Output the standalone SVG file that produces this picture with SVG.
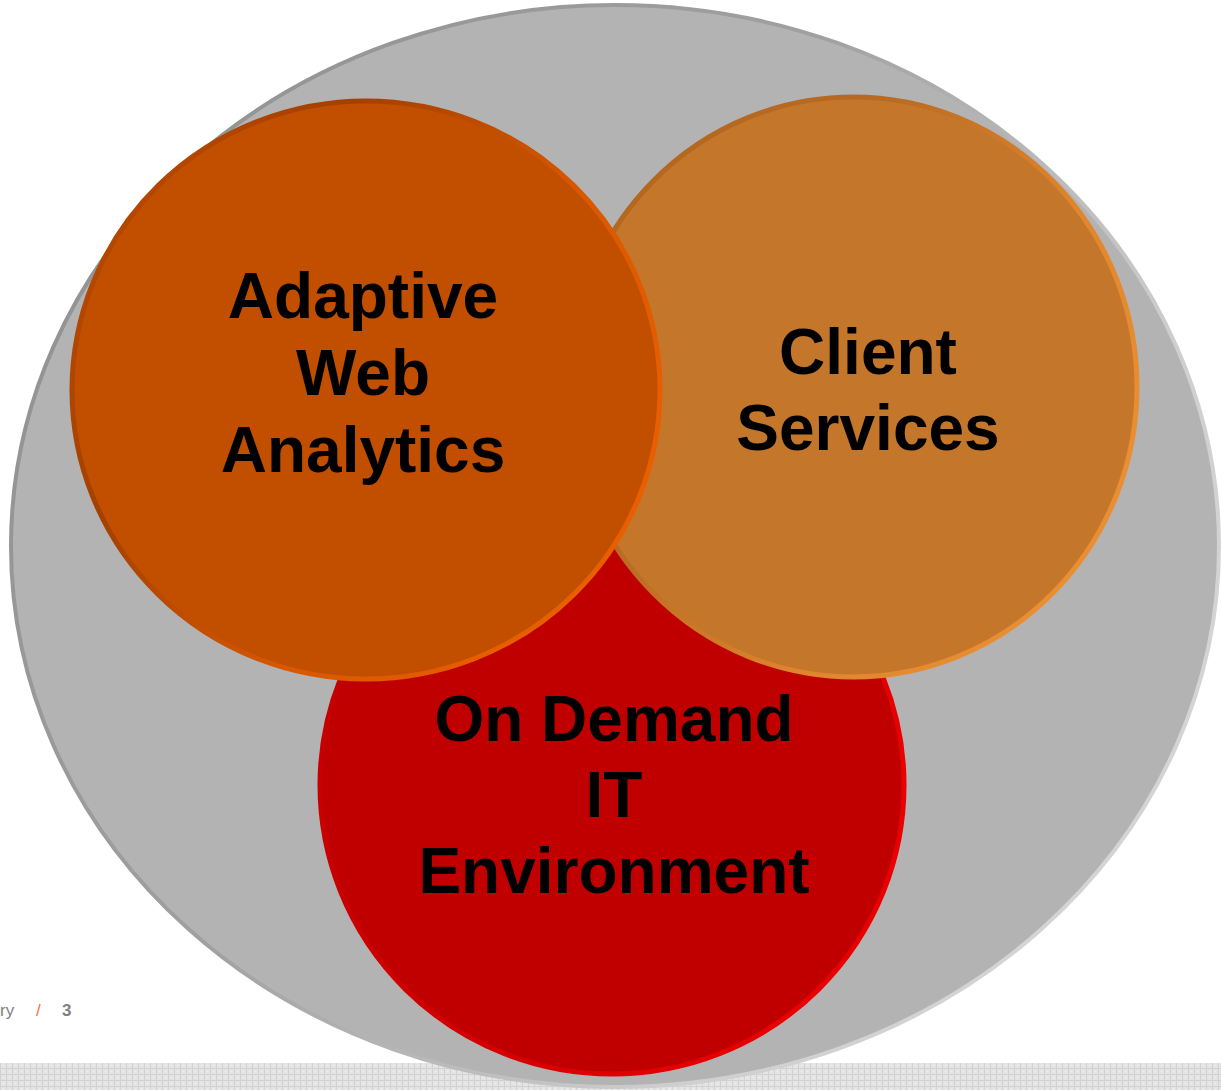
<svg xmlns="http://www.w3.org/2000/svg" width="1221" height="1090" viewBox="0 0 1221 1090">
  <defs>
    <style>
      .label { font-family: "Liberation Sans", Arial, sans-serif; font-weight: bold; font-size: 64px; fill: #000; text-anchor: middle; }
      .foot { font-family: "Liberation Sans", Arial, sans-serif; font-size: 17px; fill: #7f7f7f; }
    </style>
    <!-- dotted grid for the bottom band -->
    <pattern id="grid" width="6" height="6" patternUnits="userSpaceOnUse">
      <rect width="6" height="6" fill="#e4e4e4"/>
      <path d="M0 0.5H6M0.5 0V6" stroke="#d2d2d2" stroke-width="1"/>
      <rect x="3" y="3" width="1" height="1" fill="#f2f2f2"/>
    </pattern>
    <!-- bevelled rims: darker at top-left, lighter toward the right -->
    <linearGradient id="rimGrey" x1="0" y1="0" x2="1" y2="0.6">
      <stop offset="0" stop-color="#8e8e8e"/>
      <stop offset="0.5" stop-color="#a0a0a0"/>
      <stop offset="0.85" stop-color="#cfcfcf"/>
      <stop offset="1" stop-color="#d4d4d4"/>
    </linearGradient>
    <linearGradient id="rimAdaptive" x1="0" y1="0" x2="1" y2="0.6">
      <stop offset="0" stop-color="#c24e00"/>
      <stop offset="0.35" stop-color="#a44000"/>
      <stop offset="0.7" stop-color="#d85800"/>
      <stop offset="1" stop-color="#e85f00"/>
    </linearGradient>
    <linearGradient id="rimClient" x1="0" y1="0" x2="1" y2="0.6">
      <stop offset="0" stop-color="#b0661f"/>
      <stop offset="0.4" stop-color="#b86a22"/>
      <stop offset="0.75" stop-color="#e0862e"/>
      <stop offset="1" stop-color="#ea8e32"/>
    </linearGradient>
    <linearGradient id="rimRed" x1="0" y1="0" x2="1" y2="0.5">
      <stop offset="0" stop-color="#c00000"/>
      <stop offset="0.6" stop-color="#d40000"/>
      <stop offset="1" stop-color="#ea0000"/>
    </linearGradient>
  </defs>

  <rect width="1221" height="1090" fill="#ffffff"/>

  <!-- bottom band -->
  <rect x="0" y="1063" width="1221" height="27" fill="url(#grid)"/>

  <!-- footer -->
  <text class="foot" x="0" y="1016">ry</text>
  <text x="36" y="1016" font-family="Liberation Sans, Arial, sans-serif" font-size="17" fill="#f07050">/</text>
  <text class="foot" x="62" y="1016" font-weight="bold">3</text>

  <!-- outer container -->
  <g id="container">
    <ellipse cx="615" cy="546" rx="604" ry="541" fill="#b3b3b3" stroke="url(#rimGrey)" stroke-width="4"/>
  </g>

  <g id="on-demand-it">
    <ellipse cx="612" cy="785" rx="292" ry="289" fill="#c00000" stroke="url(#rimRed)" stroke-width="5"/>
    <text class="label" x="614" y="741">On Demand</text>
    <text class="label" x="614" y="817">IT</text>
    <text class="label" x="614" y="893">Environment</text>
  </g>

  <g id="client-services">
    <ellipse cx="853" cy="387" rx="284" ry="290" fill="#c4762a" stroke="url(#rimClient)" stroke-width="5"/>
    <text class="label" x="868" y="374">Client</text>
    <text class="label" x="868" y="450">Services</text>
  </g>

  <g id="adaptive-web-analytics">
    <ellipse cx="366" cy="390" rx="294" ry="289" fill="#c24e00" stroke="url(#rimAdaptive)" stroke-width="5"/>
    <text class="label" x="363" y="318">Adaptive</text>
    <text class="label" x="363" y="395">Web</text>
    <text class="label" x="363" y="472">Analytics</text>
  </g>

  <g id="connectors"/>
</svg>
